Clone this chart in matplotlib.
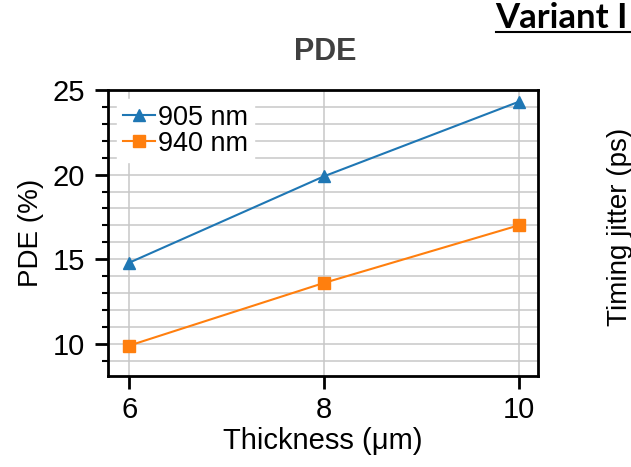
import matplotlib.pyplot as plt
from matplotlib.ticker import MultipleLocator

plt.rcParams["font.family"] = ["Liberation Sans", "DejaVu Sans"]

thickness = [6, 8, 10]
pde_905 = [14.8, 19.9, 24.3]
pde_940 = [9.9, 13.6, 17.0]
xticks = [6, 8, 10]
yticks = [10, 15, 20, 25]

W, H = 631, 467
fig = plt.figure(figsize=(W / 100, H / 100), dpi=100)
ax = fig.add_axes([108 / W, 1 - 376 / H, 430 / W, 286 / H])

ax.plot(thickness, pde_905, color="tab:blue", marker="^", markersize=8, lw=1.5, label="905 nm")
ax.plot(thickness, pde_940, color="tab:orange", marker="s", markersize=8, lw=1.5, label="940 nm")

ax.set_xlim(5.78, 10.2)
ax.set_ylim(8.1, 25)
ax.set_xticks(xticks)
ax.set_yticks(yticks)
ax.yaxis.set_minor_locator(MultipleLocator(1))
ax.grid(True, which="major", color="#c8c8c8", lw=1.1)
ax.grid(True, which="minor", axis="y", color="#c8c8c8", lw=1.1)
ax.set_axisbelow(True)

for s in ax.spines.values():
    s.set_linewidth(2)
ax.tick_params(which="major", length=9.4, width=2, labelsize=21)
ax.tick_params(axis="x", which="major", pad=5)
ax.tick_params(axis="y", which="major", pad=7)
ax.tick_params(which="minor", length=4.5, width=1.5)

ax.set_xlabel("Thickness (μm)", fontsize=21, labelpad=2)
ax.set_ylabel("PDE (%)", fontsize=20, labelpad=6.5)

leg = ax.legend(loc="upper left", fontsize=19.5, handlelength=1.2, handletextpad=0.1,
                borderaxespad=0.35, borderpad=0.2, labelspacing=0.0,
                frameon=True, framealpha=1, edgecolor="white", fancybox=False)

fig.text(325 / W, 1 - 52 / H, "PDE", ha="center", va="center", fontsize=22,
         fontweight="bold", color="#404040")
fig.text(561 / W, 1 - 18 / H, "Variant I", ha="center", va="center", fontsize=25,
         fontweight="bold", color="black", family="Lato")
fig.add_artist(plt.Line2D([496 / W, 1.0], [1 - 32 / H, 1 - 32 / H],
                          color="black", lw=1.5, transform=fig.transFigure))
fig.text(620 / W, 1 - 227 / H, "Timing jitter (ps)", ha="center", va="center",
         rotation=90, fontsize=20)

fig.savefig("out.png", dpi=100)
